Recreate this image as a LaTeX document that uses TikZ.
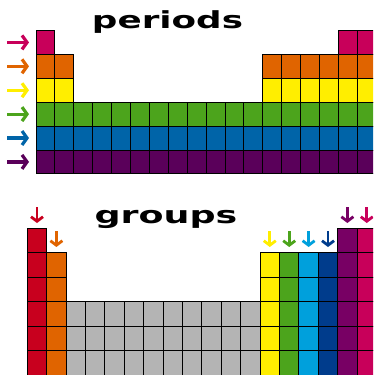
\documentclass[tikz,border=0pt]{standalone}
\usepackage{fontspec}
\newfontfamily\headfont{DejaVu Sans}
\definecolor{pmagenta}{HTML}{C8005A}
\definecolor{porange}{HTML}{E06400}
\definecolor{pyellow}{HTML}{FFEE00}
\definecolor{pgreen}{HTML}{4CA41C}
\definecolor{pblue}{HTML}{0064A8}
\definecolor{ppurple}{HTML}{5A005A}
\definecolor{gred}{HTML}{C8001E}
\definecolor{gcyan}{HTML}{00A0DC}
\definecolor{gnavy}{HTML}{003C8C}
\definecolor{gplum}{HTML}{780064}
\definecolor{ggray}{HTML}{B4B4B4}
\usetikzlibrary{arrows.meta}

\begin{document}
\begin{tikzpicture}[x=1pt,y=-1pt,
  cell/.style={draw=black,line width=0.9pt},
  sidearrow/.style={line width=3.2pt,-{Straight Barb[length=5pt,width=14pt]}},
  downarrow/.style={line width=2.8pt,-{Straight Barb[length=4.5pt,width=12pt]}},
  heading/.style={inner sep=0pt,anchor=base,font=\headfont\bfseries\fontsize{23.5}{24}\selectfont}]
  \useasboundingbox (0,0) rectangle (373,375);
  \clip (0,0) rectangle (373,375);
  % periods
  \node[heading] (periods) at (167.5,28) {\scalebox{1.52}[1]{periods}};
  \foreach \r/\clr/\cols in {1/pmagenta/{1,17,18},2/porange/{1,2,13,14,...,18},
      3/pyellow/{1,2,13,14,...,18},4/pgreen/{1,...,18},5/pblue/{1,...,18},6/ppurple/{1,...,18}}{
    \foreach \c in \cols
      \draw[cell,fill=\clr] ({36+(\c-1)*18.9},{30.5+(\r-1)*23.9}) rectangle ++(18.9,23.9);
    \draw[sidearrow,\clr] (7,{42.4+(\r-1)*23.9}) -- (29,{42.4+(\r-1)*23.9});
  }
  % groups
  \node[heading] (groups) at (166,223) {\scalebox{1.55}[1]{groups}};
  \foreach \c/\clr/\rtop in {1/gred/1,2/porange/2,13/pyellow/2,14/pgreen/2,
      15/gcyan/2,16/gnavy/2,17/gplum/1,18/pmagenta/1}{
    \foreach \r in {\rtop,...,6}
      \draw[cell,fill=\clr] ({27.3+(\c-1)*19.4},{228.3+(\r-1)*24.45}) rectangle ++(19.4,24.45);
    \draw[downarrow,\clr] ({27.3+(\c-0.5)*19.4},{207+(\rtop-1)*24}) -- ++(0,16);
  }
  \foreach \c in {3,...,12}
    \foreach \r in {4,5,6}
      \draw[cell,fill=ggray] ({27.3+(\c-1)*19.4},{228.3+(\r-1)*24.45}) rectangle ++(19.4,24.45);
\end{tikzpicture}
\end{document}
